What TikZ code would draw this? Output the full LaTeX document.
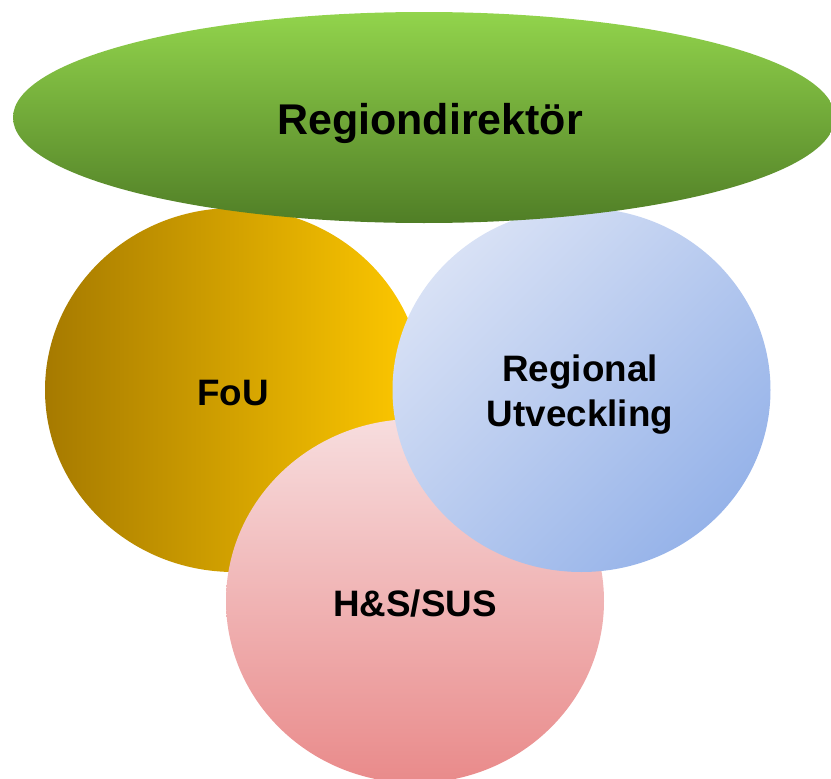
\documentclass[tikz,border=0pt]{standalone}
\usepackage{fontspec}
\setmainfont{Liberation Sans}
\usetikzlibrary{shapes.geometric}
\definecolor{goldL}{RGB}{166,122,0}
\definecolor{goldR}{RGB}{255,201,0}
\definecolor{blueL}{RGB}{216,225,245}
\definecolor{blueD}{RGB}{150,179,233}
\definecolor{pinkT}{RGB}{247,221,222}
\definecolor{pinkB}{RGB}{233,138,138}
\definecolor{greenT}{RGB}{146,212,76}
\definecolor{greenB}{RGB}{80,126,38}
\begin{document}
\begin{tikzpicture}[x=1pt,y=-1pt,
  blob/.style={ellipse, inner sep=0pt, outer sep=0pt, minimum width=378pt, minimum height=364pt},
  lbl/.style={inner sep=0pt, outer sep=0pt, text=black, align=center, font=\bfseries\fontsize{36.8}{45}\selectfont},
  toplbl/.style={inner sep=0pt, outer sep=0pt, text=black, font=\bfseries\fontsize{43}{50}\selectfont}]
\useasboundingbox (0,0) rectangle (831,779);
% circles
\node[blob, left color=goldL, right color=goldR] (fou) at (234,390) {};
\node[blob, top color=pinkT, bottom color=pinkB] (hs) at (415,601) {};
\node[blob, top color=blueL, bottom color=blueD, shading angle=45] (ru) at (581.5,390) {};
% director ellipse
\node[ellipse, inner sep=0pt, outer sep=0pt, minimum width=822pt, minimum height=211pt,
      top color=greenT, bottom color=greenB] (dir) at (424,117.5) {};
% labels
\node[toplbl, anchor=base] (dirt) at (430,134) {Regiondirektör};
\node[lbl, anchor=base] (fout) at (233,405) {FoU};
\node[lbl, anchor=base] (hst) at (415,616) {H\&S/SUS};
\node[lbl] (rut) at (580,394.5) {Regional\\Utveckling};
\end{tikzpicture}
\end{document}
